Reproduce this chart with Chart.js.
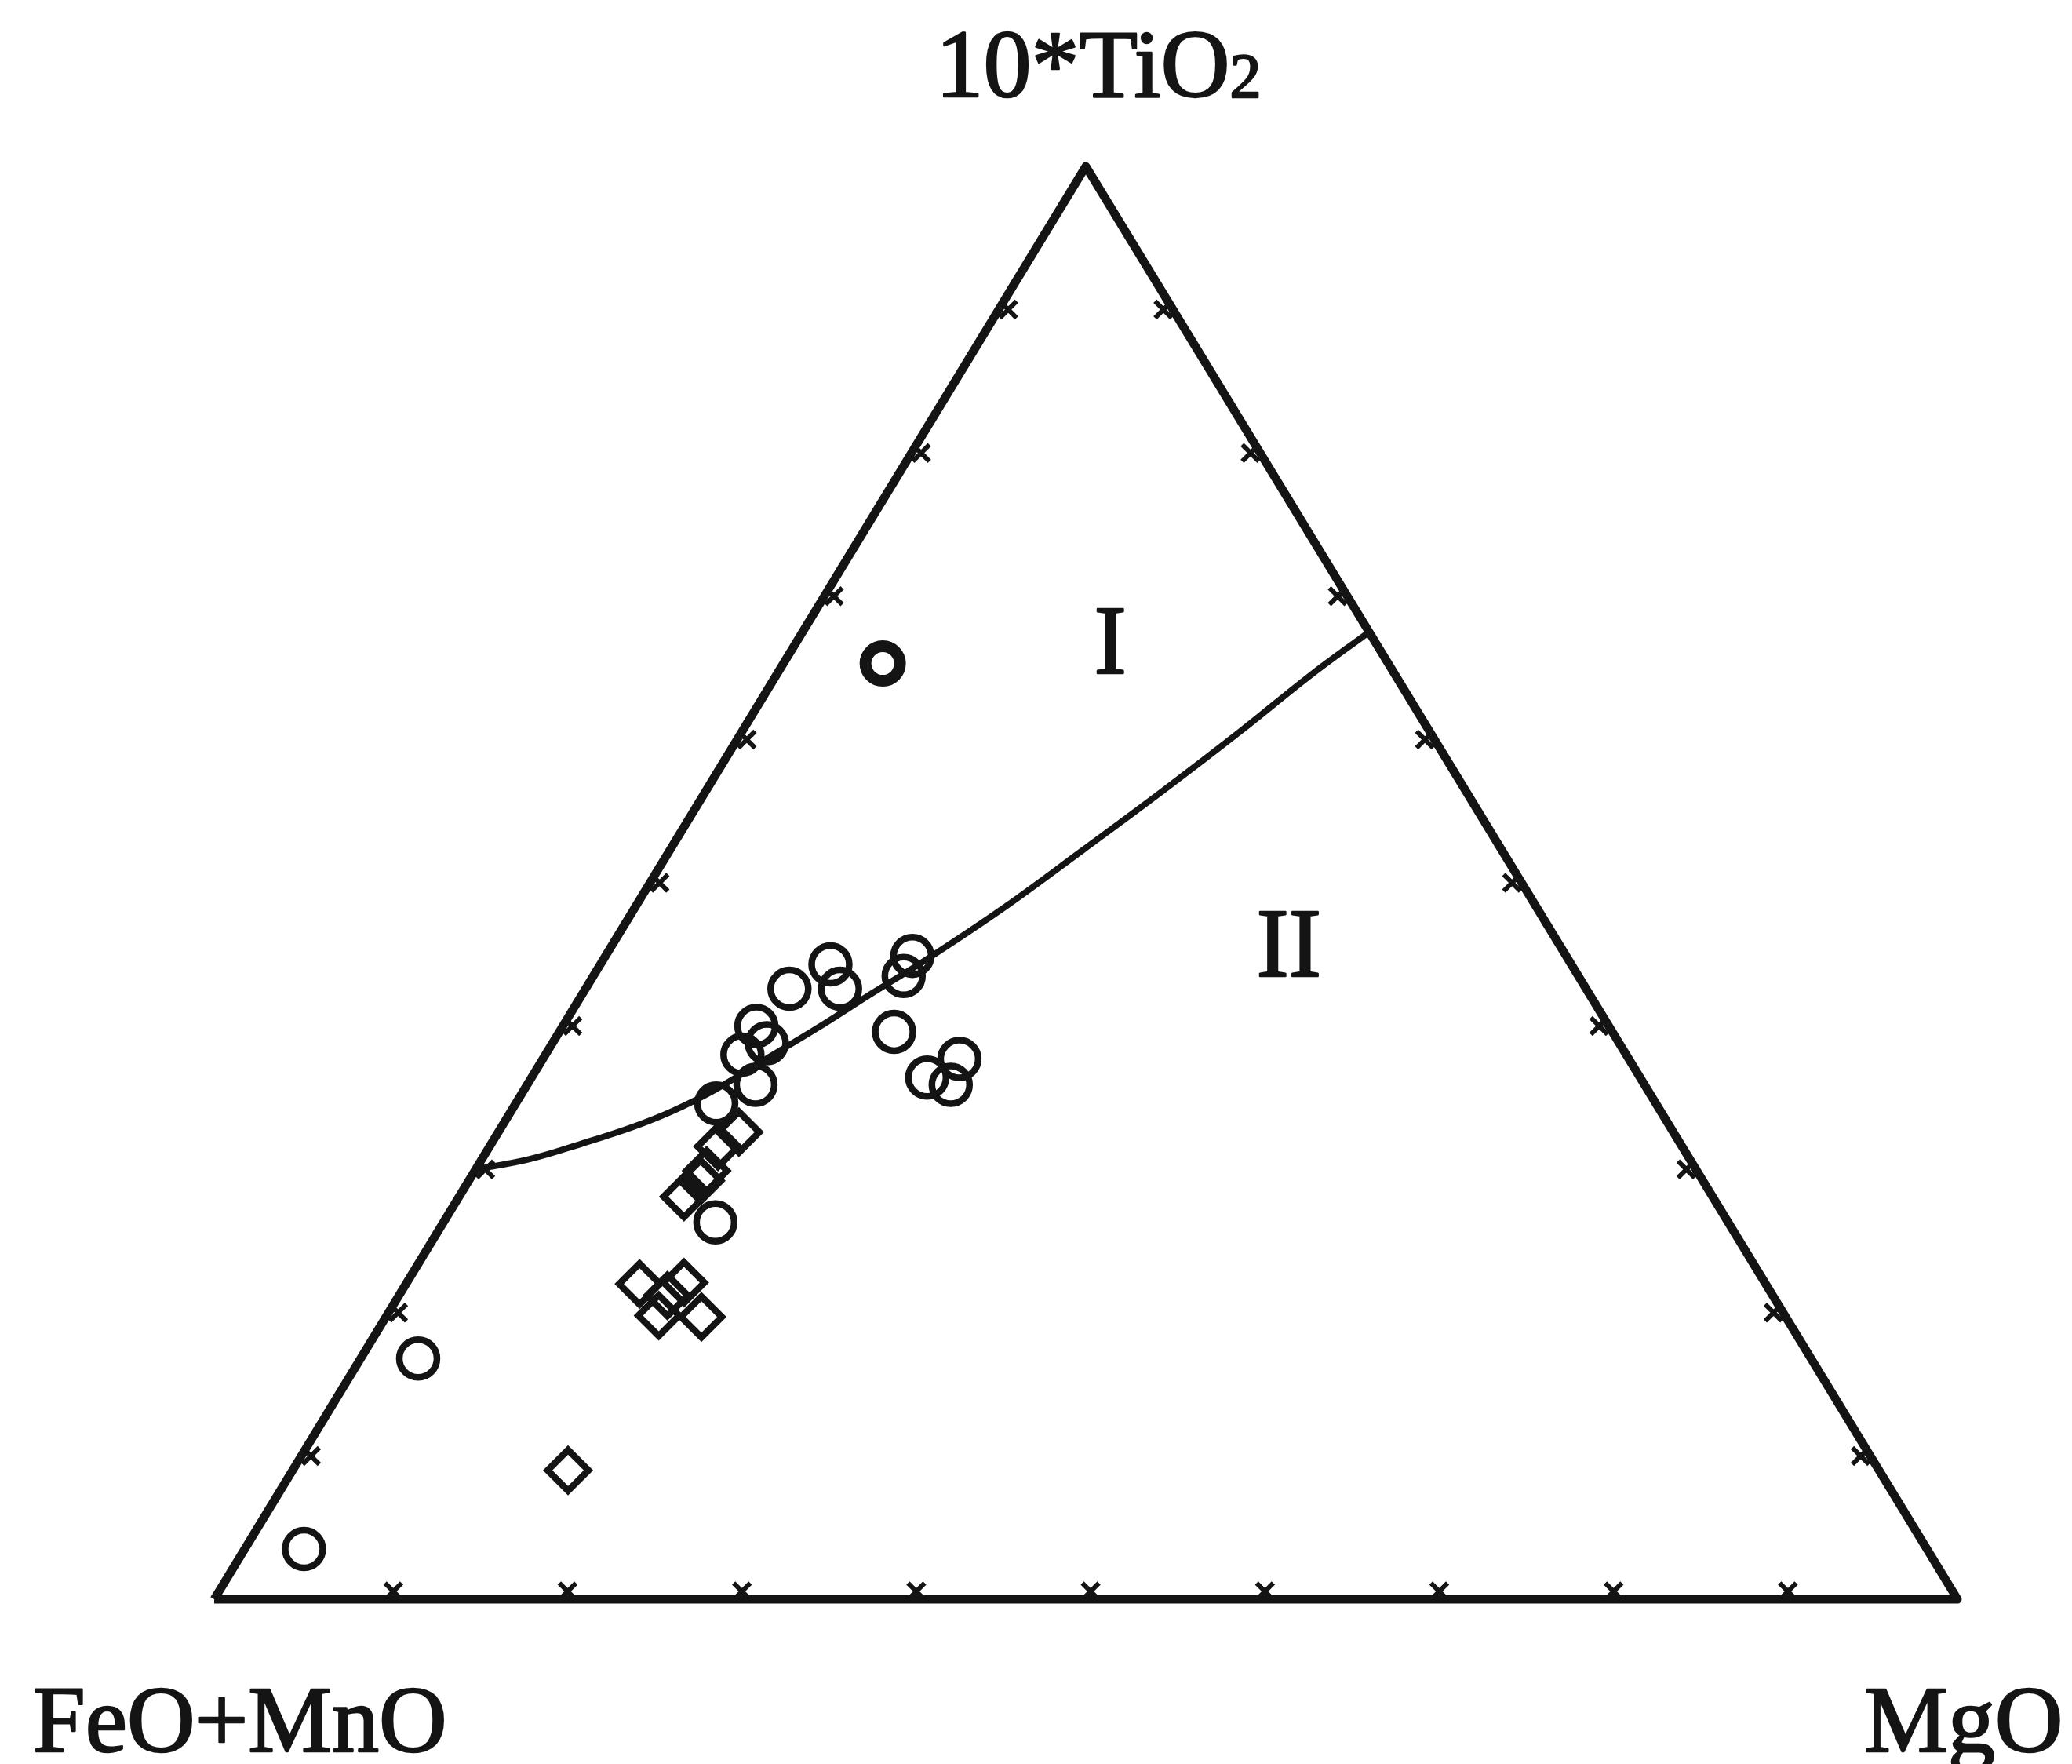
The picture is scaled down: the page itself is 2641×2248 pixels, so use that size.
<!DOCTYPE html>
<html>
<head>
<meta charset="utf-8">
<script src="https://cdn.jsdelivr.net/npm/chart.js@4.4.1/dist/chart.umd.min.js"></script>
<style>
html,body{margin:0;padding:0;background:#fff}
</style>
</head>
<body>
<canvas id="myChart" width="2641" height="2248"></canvas>
<script>
// ternary compositions in percent: 10*TiO2, FeO+MnO, MgO
var circleTi=[3.5,16.8,26.3,34.6,35.9,38.0,38.8,40.0,42.6,44.3,42.6,44.9,43.5,39.6,37.7,36.4,35.9]
var circleFe=[93.1,79.9,58.1,53.9,51.0,50.7,48.9,48.9,45.7,42.5,42.8,37.5,38.7,41.2,38.4,40.9,39.8]
var circleMg=[3.4,3.3,15.6,11.5,13.1,11.3,12.3,11.1,11.7,13.2,14.6,17.6,17.8,19.2,23.9,22.7,24.3]

var boldTi=[65.3]
var boldFe=[29.0]
var boldMg=[5.7]

var diamondTi=[9.0,22.0,22.1,19.8,19.7,21.2,28.1,29.2,29.9,31.6,32.6]
var diamondFe=[75.2,64.6,62.0,64.6,62.2,63.4,59.0,57.5,56.8,55.3,53.6]
var diamondMg=[15.8,13.4,15.9,15.6,18.1,15.4,12.9,13.3,13.3,13.1,13.8]

// field boundary between I and II (10*TiO2, MgO; rest is FeO+MnO)
var lineTi=[30.0,30.7,31.8,33.0,34.1,35.5,37.7,39.9,42.3,44.6,48.3,52.3,56.4,60.6,64.4,67.5]
var lineMg=[0.0,2.7,5.2,7.6,9.3,10.9,12.8,14.7,16.6,18.5,21.2,23.7,26.2,28.6,30.6,32.5]

var tickPct=[10,20,30,40,50,60,70,80,90]
var fieldLabels=['I','II']
var fieldTi=[66.6,45.5]
var fieldMg=[18.1,38.9]

function toXY(ti,fe,mg){
    var s=ti+fe+mg
    ti=ti/s*100; mg=mg/s*100
    return {x: mg+ti/2, y: ti}
}
function series(tiArr,feArr,mgArr){
    var out=[]
    for(var i=0;i<tiArr.length;i++){
        out.push(toXY(tiArr[i],feArr[i],mgArr[i]))
    }
    return out
}

var frame=[toXY(0,100,0),toXY(0,0,100),toXY(100,0,0),toXY(0,100,0)]
var boundary=[]
for(var i=0;i<lineTi.length;i++){
    boundary.push(toXY(lineTi[i],100-lineTi[i]-lineMg[i],lineMg[i]))
}
// tick marks sit just inside each side
var inset=0.55
var ticksBase=[], ticksLeft=[], ticksRight=[]
tickPct.forEach(function(p){
    ticksBase.push(toXY(inset,100-p-inset,p))
    ticksLeft.push(toXY(p,100-p-inset,inset))
    ticksRight.push(toXY(p,inset,100-p-inset))
})

var ink='#141414'

var labelPlugin={
    id:'labels',
    afterDatasetsDraw:function(chart){
        var ctx=chart.ctx
        var xs=chart.scales.x, ys=chart.scales.y
        ctx.save()
        ctx.fillStyle=ink
        ctx.strokeStyle=ink
        ctx.lineWidth=2.5
        ctx.lineJoin='round'
        ctx.textBaseline='alphabetic'
        function put(t,x,y){ ctx.fillText(t,x,y); ctx.strokeText(t,x,y) }
        // apex label with subscript
        ctx.font='122px "Liberation Serif"'
        var main='10*TiO'
        var w1=ctx.measureText(main).width
        ctx.font='80px "Liberation Serif"'
        var w2=ctx.measureText('2').width
        var x0=1400-(w1+w2)/2
        ctx.font='122px "Liberation Serif"'
        ctx.textAlign='left'
        put(main,x0,123)
        ctx.font='80px "Liberation Serif"'
        put('2',x0+w1,124)
        // corner labels
        ctx.font='120px "Liberation Serif"'
        put('FeO+MnO',42,2232)
        put('MgO',2376,2232)
        // field labels
        ctx.textAlign='center'
        ctx.textBaseline='middle'
        ctx.font='124px "Liberation Serif"'
        for(var i=0;i<fieldLabels.length;i++){
            var p=toXY(fieldTi[i],100-fieldTi[i]-fieldMg[i],fieldMg[i])
            put(fieldLabels[i],xs.getPixelForValue(p.x),ys.getPixelForValue(p.y)+4)
        }
        ctx.restore()
    }
}

var ctx=document.getElementById('myChart')
var myChart=new Chart(ctx,{
    type:'scatter',
    data:{
        datasets:[{
            label:'circles',
            data:series(circleTi,circleFe,circleMg),
            pointStyle:'circle',
            pointRadius:24,
            borderWidth:8.5,
            borderColor:ink,
            backgroundColor:'rgba(0,0,0,0)',
            clip:false
        },{
            label:'bold circle',
            data:series(boldTi,boldFe,boldMg),
            pointStyle:'circle',
            pointRadius:22,
            borderWidth:15,
            borderColor:ink,
            backgroundColor:'rgba(0,0,0,0)',
            clip:false
        },{
            label:'diamonds',
            data:series(diamondTi,diamondFe,diamondMg),
            pointStyle:'rectRot',
            pointRadius:26,
            borderWidth:8.5,
            borderColor:ink,
            borderJoinStyle:'round',
            backgroundColor:'rgba(0,0,0,0)',
            clip:false
        },{
            label:'boundary',
            data:boundary,
            showLine:true,
            pointRadius:0,
            borderWidth:8,
            borderColor:ink,
            tension:0.4,
            clip:false
        },{
            label:'frame',
            data:frame,
            showLine:true,
            pointRadius:0,
            borderWidth:11,
            borderColor:ink,
            borderJoinStyle:'round',
            tension:0,
            clip:false
        },{
            label:'ticks',
            data:ticksBase.concat(ticksLeft,ticksRight),
            pointStyle:'crossRot',
            pointRadius:15,
            borderWidth:6,
            borderColor:ink,
            clip:false
        }]
    },
    options:{
        responsive:false,
        animation:false,
        layout:{padding:{left:273,right:146,top:212,bottom:210}},
        scales:{
            x:{type:'linear',min:0,max:100,display:false},
            y:{type:'linear',min:0,max:100,display:false}
        },
        plugins:{
            legend:{display:false},
            tooltip:{enabled:false}
        },
        elements:{point:{hoverRadius:0}}
    },
    plugins:[labelPlugin]
})
</script>
</body>
</html>
